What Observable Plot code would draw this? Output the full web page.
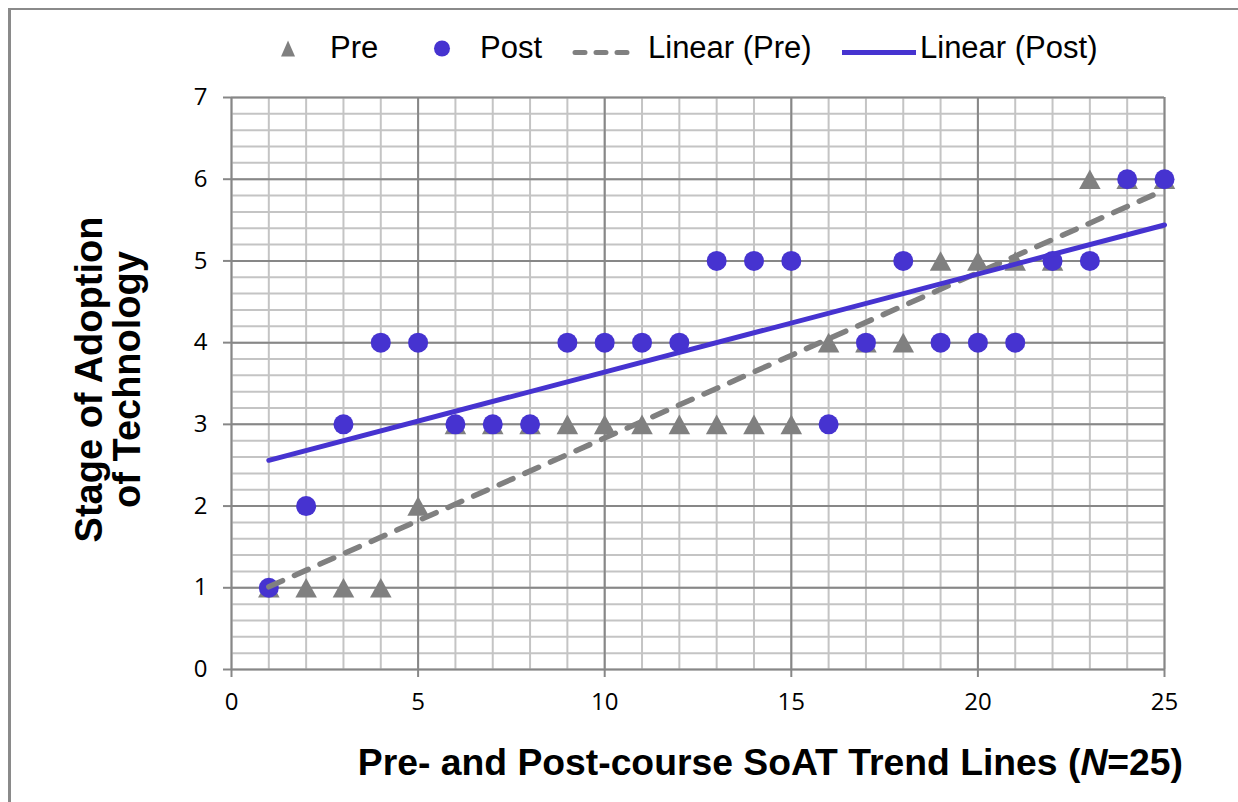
<!DOCTYPE html>
<html><head><meta charset="utf-8">
<script src="https://cdn.jsdelivr.net/npm/d3@7"></script>
<script src="https://cdn.jsdelivr.net/npm/@observablehq/plot@0.6"></script>
<style>
html,body{margin:0;padding:0;background:#fff;width:1238px;height:802px;overflow:hidden;position:relative;}
#frame{position:absolute;left:8px;top:8px;width:1300px;height:900px;border-top:2px solid #8a8a8a;border-left:3px solid #8a8a8a;pointer-events:none;}
#wrap{position:absolute;left:0;top:0;width:1238px;}
#legend{position:relative;height:80px;font-family:"Liberation Sans",Arial,sans-serif;font-size:31px;color:#000;}
#legend .it{position:absolute;top:47px;transform:translateY(-50%);line-height:1;white-space:nowrap;display:block;}
#chart svg{display:block;}
#xtitle{margin-top:12px;height:60px;line-height:60px;text-align:right;padding-right:55px;font-family:"Liberation Sans",Arial,sans-serif;font-weight:bold;font-size:37.3px;color:#000;white-space:nowrap;}
</style>
</head><body>
<div id="frame"></div>
<div id="wrap">
  <div id="legend"></div>
  <div id="chart"></div>
  <div id="xtitle"></div>
</div>
<script>
// ---- data ----
const participants = [1,2,3,4,5,6,7,8,9,10,11,12,13,14,15,16,17,18,19,20,21,22,23,24,25];
const preValues  = [1,1,1,1,2,3,3,3,3,3,3,3,3,3,3,4,4,4,5,5,5,5,6,6,6];
const postValues = [1,2,3,4,4,3,3,3,4,4,4,4,5,5,5,3,4,5,4,4,4,5,5,6,6];
const xTicks = [0,5,10,15,20,25];
const yTicks = [0,1,2,3,4,5,6,7];
const seriesNames = ["Pre","Post","Linear (Pre)","Linear (Post)"];
const yTitle = "Stage of Adoption\nof Technology";
const xTitleHTML = "Pre- and Post-course SoAT Trend Lines (<i>N</i>=25)";

const gray = "#808080";
const blue = "#4633d0";

const table = participants.map((p, i) => ({participant: p, pre: preValues[i], post: postValues[i]}));
const minorX = d3.range(0, 25.001, 1);
const minorY = d3.range(0, 7.001, 0.2).map(v => +v.toFixed(2));

// triangle centred on its bounding box (like the spreadsheet marker)
const triangle = {
  draw(ctx, size) {
    const r = Math.sqrt(size / Math.PI);
    ctx.moveTo(0, -r);
    ctx.lineTo(1.1 * r, r);
    ctx.lineTo(-1.1 * r, r);
    ctx.closePath();
  }
};

// ---- legend ----
const legend = document.getElementById("legend");
function add(html, left) {
  const el = document.createElement("div");
  el.className = "it";
  el.style.left = left + "px";
  el.innerHTML = html;
  legend.appendChild(el);
}
add(`<svg width="16" height="18"><polygon points="8,1 15,17 1,17" fill="${gray}"/></svg>`, 280);
add(seriesNames[0], 330);
add(`<svg width="18" height="18"><circle cx="9" cy="9" r="8" fill="${blue}"/></svg>`, 433);
add(seriesNames[1], 480);
add(`<svg width="70" height="10"><line x1="4" y1="5" x2="66" y2="5" stroke="${gray}" stroke-width="5" stroke-linecap="round" stroke-dasharray="10,11"/></svg>`, 571);
add(seriesNames[2], 648);
add(`<svg width="74" height="10"><line x1="0" y1="5" x2="74" y2="5" stroke="${blue}" stroke-width="5"/></svg>`, 842);
add(seriesNames[3], 920);

document.getElementById("xtitle").innerHTML = xTitleHTML;

// ---- chart ----
const plot = Plot.plot({
  width: 1238,
  height: 640,
  marginTop: 17,
  marginBottom: 51,
  marginLeft: 231,
  marginRight: 74,
  x: {domain: [0, 25]},
  y: {domain: [0, 7]},
  style: {background: "transparent", fontFamily: "'Open Sans', sans-serif", color: "#000", overflow: "visible"},
  marks: [
    Plot.ruleX(minorX, {stroke: "#c4c4c4", strokeWidth: 2}),
    Plot.ruleY(minorY, {stroke: "#c4c4c4", strokeWidth: 2}),
    Plot.ruleX(xTicks, {stroke: "#878787", strokeWidth: 2}),
    Plot.ruleY(yTicks, {stroke: "#878787", strokeWidth: 2}),
    Plot.axisX({ticks: xTicks, tickFormat: d => String(d), tickSize: 8, tickPadding: 15, stroke: "#878787", strokeWidth: 2, fill: "#000", fontSize: 24, label: null}),
    Plot.axisY({ticks: yTicks, tickFormat: d => String(d), tickSize: 8, tickPadding: 16, stroke: "#878787", strokeWidth: 2, fill: "#000", fontSize: 24, label: null}),
    Plot.dot(table, {x: "participant", y: "pre", symbol: triangle, r: 9.8, fill: gray}),
    Plot.dot(table, {x: "participant", y: "post", r: 10, fill: blue}),
    Plot.linearRegressionY(table, {x: "participant", y: "pre", ci: 0, stroke: gray, strokeWidth: 5.5, strokeDasharray: "15,13", strokeLinecap: "round"}),
    Plot.linearRegressionY(table, {x: "participant", y: "post", ci: 0, stroke: blue, strokeWidth: 5}),
    Plot.text([yTitle], {frameAnchor: "left", dx: -123, dy: -4, rotate: -90, fontSize: 38, fontWeight: "bold", fontFamily: "'Liberation Sans', Arial, sans-serif", lineHeight: 1.0, fill: "#000", textAnchor: "middle", lineAnchor: "middle"})
  ]
});
document.getElementById("chart").appendChild(plot);
</script>
</body></html>
